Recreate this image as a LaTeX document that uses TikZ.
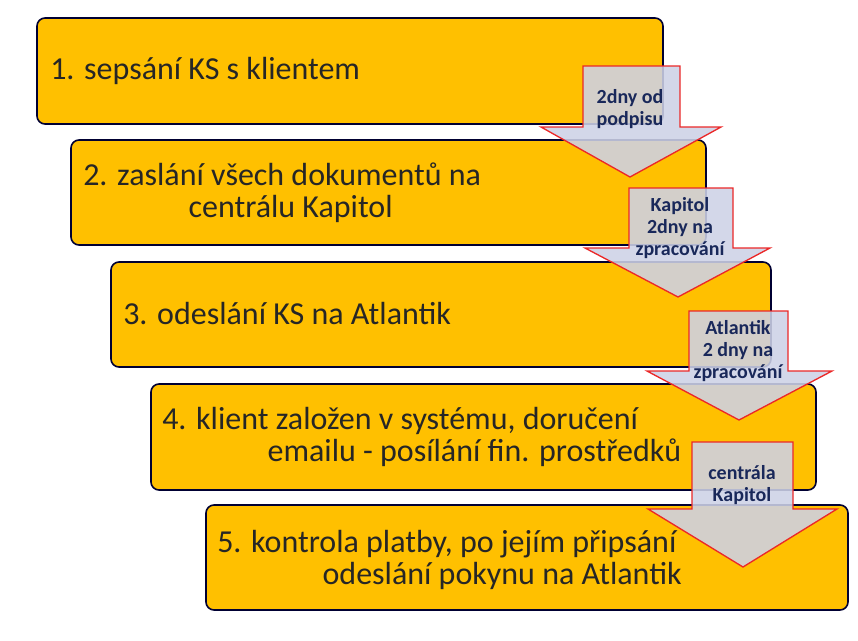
\documentclass[tikz,border=0pt]{standalone}
\usepackage{fontspec}
\setmainfont{Carlito}
\begin{document}
\begin{tikzpicture}[x=0.75pt,y=-0.75pt,
  stepbox/.style={draw=black!80!blue,line width=1.2pt,rounded corners=6pt},
  stepfill/.style={fill={rgb,255:red,255;green,192;blue,0}},
  boxtext/.style={anchor=west,align=left,font=\fontsize{24pt}{24pt}\selectfont,text=black!85,inner sep=0pt},
  arr/.style={draw={rgb,255:red,235;green,40;blue,40},line width=1pt,fill={rgb,255:red,205;green,210;blue,230},fill opacity=0.88},
  arrtext/.style={align=center,font=\bfseries\fontsize{15pt}{16.5pt}\selectfont,text={rgb,255:red,25;green,40;blue,90}}]
\useasboundingbox (0,0) rectangle (858,640);
\draw[stepbox,stepfill] (37,18) rectangle (663,124);
\draw[stepbox,stepfill] (71,140) rectangle (706,245);
\draw[stepbox,stepfill] (111,262) rectangle (771,367);
\draw[stepbox,stepfill] (151,384) rectangle (816,490);
\draw[stepbox,stepfill] (206,505) rectangle (848,610);
\node[boxtext] (t1) at (50,71) {1. sepsání KS s klientem};
\node[boxtext] (t2) at (83,193) {2. zaslání všech dokumentů na\\\hspace*{79pt}centrálu Kapitol};
\node[boxtext] (t3) at (123,314) {3. odeslání KS na Atlantik};
\node[boxtext] (t4) at (162,437) {4. klient založen v systému, doručení\\\hspace*{79pt}emailu - posílání fin. prostředků};
\node[boxtext] (t5) at (217,560) {5. kontrola platby, po jejím připsání\\\hspace*{79pt}odeslání pokynu na Atlantik};
\draw[arr] (583,66)--(680,66)--(680,127)--(721,127)--(630,177)--(541,127)--(583,127)--cycle;
\draw[arr] (629,188)--(733,188)--(733,248)--(770,248)--(678,297)--(585,248)--(629,248)--cycle;
\draw[arr] (689,311)--(788,311)--(788,371)--(832,371)--(739,420)--(647,371)--(689,371)--cycle;
\draw[arr] (692,442)--(793,442)--(793,509)--(837,509)--(743,567)--(648,509)--(692,509)--cycle;
\node[arrtext] (a1) at (630,109) {2dny od\\podpisu};
\node[arrtext] (a2) at (680,228) {Kapitol\\2dny na\\zpracování};
\node[arrtext] (a3) at (738,351) {Atlantik\\2 dny na\\zpracování};
\node[arrtext] (a4) at (742,485) {centrála\\Kapitol};
\end{tikzpicture}
\end{document}
